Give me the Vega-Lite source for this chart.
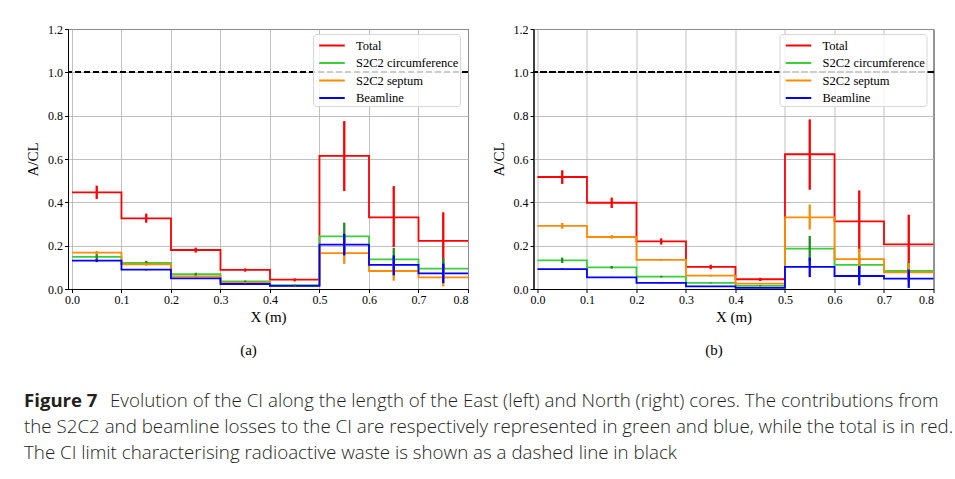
{
  "$schema": "https://vega.github.io/schema/vega-lite/v6.json",
  "padding": {"left": 24, "top": 22, "right": 0, "bottom": 0},
  "background": "white",
  "datasets": {
    "d": [
      {"p":"a","s":"Total","x0":0.0,"x1":0.1,"xc":0.05,"v":0.446,"lo":0.415,"hi":0.477},
      {"p":"a","s":"Total","x0":0.1,"x1":0.2,"xc":0.15,"v":0.326,"lo":0.306,"hi":0.348},
      {"p":"a","s":"Total","x0":0.2,"x1":0.3,"xc":0.25,"v":0.180,"lo":0.168,"hi":0.191},
      {"p":"a","s":"Total","x0":0.3,"x1":0.4,"xc":0.35,"v":0.088,"lo":0.080,"hi":0.095},
      {"p":"a","s":"Total","x0":0.4,"x1":0.5,"xc":0.45,"v":0.043,"lo":0.035,"hi":0.049},
      {"p":"a","s":"Total","x0":0.5,"x1":0.6,"xc":0.55,"v":0.614,"lo":0.452,"hi":0.775},
      {"p":"a","s":"Total","x0":0.6,"x1":0.7,"xc":0.65,"v":0.331,"lo":0.194,"hi":0.475},
      {"p":"a","s":"Total","x0":0.7,"x1":0.8,"xc":0.75,"v":0.222,"lo":0.071,"hi":0.354},
      {"p":"a","s":"S2C2 circumference","x0":0.0,"x1":0.1,"xc":0.05,"v":0.148,"lo":0.135,"hi":0.163},
      {"p":"a","s":"S2C2 circumference","x0":0.1,"x1":0.2,"xc":0.15,"v":0.120,"lo":0.111,"hi":0.130},
      {"p":"a","s":"S2C2 circumference","x0":0.2,"x1":0.3,"xc":0.25,"v":0.068,"lo":0.061,"hi":0.075},
      {"p":"a","s":"S2C2 circumference","x0":0.3,"x1":0.4,"xc":0.35,"v":0.035,"lo":0.031,"hi":0.039},
      {"p":"a","s":"S2C2 circumference","x0":0.4,"x1":0.5,"xc":0.45,"v":0.018,"lo":0.015,"hi":0.021},
      {"p":"a","s":"S2C2 circumference","x0":0.5,"x1":0.6,"xc":0.55,"v":0.243,"lo":0.178,"hi":0.306},
      {"p":"a","s":"S2C2 circumference","x0":0.6,"x1":0.7,"xc":0.65,"v":0.137,"lo":0.086,"hi":0.190},
      {"p":"a","s":"S2C2 circumference","x0":0.7,"x1":0.8,"xc":0.75,"v":0.094,"lo":0.045,"hi":0.143},
      {"p":"a","s":"S2C2 septum","x0":0.0,"x1":0.1,"xc":0.05,"v":0.168,"lo":0.160,"hi":0.176},
      {"p":"a","s":"S2C2 septum","x0":0.1,"x1":0.2,"xc":0.15,"v":0.114,"lo":0.108,"hi":0.120},
      {"p":"a","s":"S2C2 septum","x0":0.2,"x1":0.3,"xc":0.25,"v":0.058,"lo":0.053,"hi":0.063},
      {"p":"a","s":"S2C2 septum","x0":0.3,"x1":0.4,"xc":0.35,"v":0.029,"lo":0.026,"hi":0.032},
      {"p":"a","s":"S2C2 septum","x0":0.4,"x1":0.5,"xc":0.45,"v":0.014,"lo":0.012,"hi":0.016},
      {"p":"a","s":"S2C2 septum","x0":0.5,"x1":0.6,"xc":0.55,"v":0.166,"lo":0.116,"hi":0.225},
      {"p":"a","s":"S2C2 septum","x0":0.6,"x1":0.7,"xc":0.65,"v":0.083,"lo":0.038,"hi":0.128},
      {"p":"a","s":"S2C2 septum","x0":0.7,"x1":0.8,"xc":0.75,"v":0.054,"lo":0.012,"hi":0.096},
      {"p":"a","s":"Beamline","x0":0.0,"x1":0.1,"xc":0.05,"v":0.131,"lo":0.124,"hi":0.138},
      {"p":"a","s":"Beamline","x0":0.1,"x1":0.2,"xc":0.15,"v":0.089,"lo":0.086,"hi":0.092},
      {"p":"a","s":"Beamline","x0":0.2,"x1":0.3,"xc":0.25,"v":0.049,"lo":0.046,"hi":0.052},
      {"p":"a","s":"Beamline","x0":0.3,"x1":0.4,"xc":0.35,"v":0.023,"lo":0.021,"hi":0.025},
      {"p":"a","s":"Beamline","x0":0.4,"x1":0.5,"xc":0.45,"v":0.014,"lo":0.012,"hi":0.016},
      {"p":"a","s":"Beamline","x0":0.5,"x1":0.6,"xc":0.55,"v":0.205,"lo":0.155,"hi":0.255},
      {"p":"a","s":"Beamline","x0":0.6,"x1":0.7,"xc":0.65,"v":0.111,"lo":0.063,"hi":0.155},
      {"p":"a","s":"Beamline","x0":0.7,"x1":0.8,"xc":0.75,"v":0.072,"lo":0.027,"hi":0.117},
      {"p":"b","s":"Total","x0":0.0,"x1":0.1,"xc":0.05,"v":0.517,"lo":0.485,"hi":0.548},
      {"p":"b","s":"Total","x0":0.1,"x1":0.2,"xc":0.15,"v":0.398,"lo":0.374,"hi":0.422},
      {"p":"b","s":"Total","x0":0.2,"x1":0.3,"xc":0.25,"v":0.220,"lo":0.205,"hi":0.234},
      {"p":"b","s":"Total","x0":0.3,"x1":0.4,"xc":0.35,"v":0.102,"lo":0.091,"hi":0.112},
      {"p":"b","s":"Total","x0":0.4,"x1":0.5,"xc":0.45,"v":0.045,"lo":0.037,"hi":0.052},
      {"p":"b","s":"Total","x0":0.5,"x1":0.6,"xc":0.55,"v":0.622,"lo":0.458,"hi":0.783},
      {"p":"b","s":"Total","x0":0.6,"x1":0.7,"xc":0.65,"v":0.312,"lo":0.170,"hi":0.455},
      {"p":"b","s":"Total","x0":0.7,"x1":0.8,"xc":0.75,"v":0.206,"lo":0.055,"hi":0.343},
      {"p":"b","s":"S2C2 circumference","x0":0.0,"x1":0.1,"xc":0.05,"v":0.132,"lo":0.120,"hi":0.145},
      {"p":"b","s":"S2C2 circumference","x0":0.1,"x1":0.2,"xc":0.15,"v":0.100,"lo":0.094,"hi":0.106},
      {"p":"b","s":"S2C2 circumference","x0":0.2,"x1":0.3,"xc":0.25,"v":0.057,"lo":0.053,"hi":0.061},
      {"p":"b","s":"S2C2 circumference","x0":0.3,"x1":0.4,"xc":0.35,"v":0.028,"lo":0.026,"hi":0.030},
      {"p":"b","s":"S2C2 circumference","x0":0.4,"x1":0.5,"xc":0.45,"v":0.014,"lo":0.012,"hi":0.016},
      {"p":"b","s":"S2C2 circumference","x0":0.5,"x1":0.6,"xc":0.55,"v":0.186,"lo":0.128,"hi":0.245},
      {"p":"b","s":"S2C2 circumference","x0":0.6,"x1":0.7,"xc":0.65,"v":0.111,"lo":0.060,"hi":0.160},
      {"p":"b","s":"S2C2 circumference","x0":0.7,"x1":0.8,"xc":0.75,"v":0.083,"lo":0.040,"hi":0.126},
      {"p":"b","s":"S2C2 septum","x0":0.0,"x1":0.1,"xc":0.05,"v":0.291,"lo":0.278,"hi":0.305},
      {"p":"b","s":"S2C2 septum","x0":0.1,"x1":0.2,"xc":0.15,"v":0.240,"lo":0.232,"hi":0.249},
      {"p":"b","s":"S2C2 septum","x0":0.2,"x1":0.3,"xc":0.25,"v":0.134,"lo":0.129,"hi":0.139},
      {"p":"b","s":"S2C2 septum","x0":0.3,"x1":0.4,"xc":0.35,"v":0.062,"lo":0.058,"hi":0.066},
      {"p":"b","s":"S2C2 septum","x0":0.4,"x1":0.5,"xc":0.45,"v":0.025,"lo":0.022,"hi":0.028},
      {"p":"b","s":"S2C2 septum","x0":0.5,"x1":0.6,"xc":0.55,"v":0.331,"lo":0.274,"hi":0.390},
      {"p":"b","s":"S2C2 septum","x0":0.6,"x1":0.7,"xc":0.65,"v":0.138,"lo":0.090,"hi":0.186},
      {"p":"b","s":"S2C2 septum","x0":0.7,"x1":0.8,"xc":0.75,"v":0.077,"lo":0.035,"hi":0.120},
      {"p":"b","s":"Beamline","x0":0.0,"x1":0.1,"xc":0.05,"v":0.092,"lo":0.089,"hi":0.095},
      {"p":"b","s":"Beamline","x0":0.1,"x1":0.2,"xc":0.15,"v":0.054,"lo":0.052,"hi":0.056},
      {"p":"b","s":"Beamline","x0":0.2,"x1":0.3,"xc":0.25,"v":0.028,"lo":0.026,"hi":0.030},
      {"p":"b","s":"Beamline","x0":0.3,"x1":0.4,"xc":0.35,"v":0.012,"lo":0.011,"hi":0.013},
      {"p":"b","s":"Beamline","x0":0.4,"x1":0.5,"xc":0.45,"v":0.005,"lo":0.004,"hi":0.006},
      {"p":"b","s":"Beamline","x0":0.5,"x1":0.6,"xc":0.55,"v":0.102,"lo":0.055,"hi":0.145},
      {"p":"b","s":"Beamline","x0":0.6,"x1":0.7,"xc":0.65,"v":0.060,"lo":0.017,"hi":0.106},
      {"p":"b","s":"Beamline","x0":0.7,"x1":0.8,"xc":0.75,"v":0.048,"lo":0.005,"hi":0.090}
    ],
    "cap": [
      {"line": 1, "lead": "Figure 7", "body": "Evolution of the CI along the length of the East (left) and North (right) cores. The contributions from"},
      {"line": 2, "lead": "", "body": "the S2C2 and beamline losses to the CI are respectively represented in green and blue, while the total is in red."},
      {"line": 3, "lead": "", "body": "The CI limit characterising radioactive waste is shown as a dashed line in black"}
    ]
  },
  "config": {
    "font": "Liberation Serif",
    "view": {"stroke": "black", "strokeWidth": 1},
    "axis": {
      "labelFont": "Liberation Serif", "labelFontSize": 12, "labelColor": "black", "labelFontWeight": "normal",
      "titleFont": "Liberation Serif", "titleFontSize": 15, "titleFontWeight": "normal", "titleColor": "black",
      "tickColor": "black", "tickSize": 3.5, "domainColor": "black", "domainWidth": 1,
      "gridColor": "#b0b0b0", "gridWidth": 0.8, "labelPadding": 2
    },
    "legend": {
      "labelFont": "Liberation Serif", "labelFontSize": 12.5, "labelColor": "black"
    },
    "title": {"font": "Liberation Serif", "fontSize": 15, "fontWeight": "normal", "color": "black"}
  },
  "vconcat": [
    {
      "hconcat": [
        {
          "width": 400, "height": 260,
          "data": {"name": "d"},
          "transform": [{"filter": "datum.p === 'a'"}],
          "title": {"text": "(a)", "orient": "bottom", "anchor": "middle", "frame": "bounds", "offset": 18},
          "layer": [
            {
              "transform": [{"fold": ["x0", "x1"], "as": ["edge", "xpos"]}],
              "mark": {"type": "line", "strokeWidth": 1.8},
              "encoding": {
                "x": {"field": "xpos", "type": "quantitative", "title": "X (m)",
                      "scale": {"domain": [-0.008, 0.8], "nice": false, "zero": false},
                      "axis": {"values": [0, 0.1, 0.2, 0.3, 0.4, 0.5, 0.6, 0.7, 0.8], "format": ".1f", "titlePadding": 4}},
                "y": {"field": "v", "type": "quantitative", "title": "A/CL",
                      "scale": {"domain": [0, 1.2], "nice": false},
                      "axis": {"values": [0, 0.2, 0.4, 0.6, 0.8, 1.0, 1.2], "format": ".1f", "titlePadding": 7}},
                "color": {"field": "s", "type": "nominal",
                          "scale": {"domain": ["Total", "S2C2 circumference", "S2C2 septum", "Beamline"], "range": ["#ff0000", "#3ccd3c", "#ff8c00", "#0000ff"]},
                          "legend": {"title": null, "orient": "none", "legendX": 245, "legendY": 5, "padding": 1.5, "strokeColor": "#d6d6d6", "fillColor": "rgba(255,255,255,0.8)", "cornerRadius": 3, "symbolType": "M-1.5,0H1.5", "symbolSize": 290, "symbolStrokeWidth": 2, "symbolOffset": 7.5, "rowPadding": 0.5, "labelOffset": 14}},
                "order": [{"field": "x0", "type": "quantitative"}, {"field": "xpos", "type": "quantitative"}]
              }
            },
            {
              "mark": {"type": "rule", "strokeWidth": 2.3},
              "encoding": {
                "x": {"field": "xc", "type": "quantitative"},
                "y": {"field": "lo", "type": "quantitative"},
                "y2": {"field": "hi"},
                "stroke": {"field": "s", "type": "nominal", "legend": null,
                           "scale": {"domain": ["Total", "S2C2 circumference", "S2C2 septum", "Beamline"], "range": ["#ff0000", "#1e8c1e", "#ff8c00", "#0000ff"]}}
              }
            },
            {
              "mark": {"type": "rule", "color": "black", "strokeDash": [6, 3], "strokeWidth": 1.5},
              "encoding": {"y": {"datum": 1.0}}
            }
          ]
        },
        {
          "width": 400, "height": 260,
          "data": {"name": "d"},
          "transform": [{"filter": "datum.p === 'b'"}],
          "title": {"text": "(b)", "orient": "bottom", "anchor": "middle", "frame": "bounds", "offset": 18},
          "layer": [
            {
              "transform": [{"fold": ["x0", "x1"], "as": ["edge", "xpos"]}],
              "mark": {"type": "line", "strokeWidth": 1.8},
              "encoding": {
                "x": {"field": "xpos", "type": "quantitative", "title": "X (m)",
                      "scale": {"domain": [-0.008, 0.8], "nice": false, "zero": false},
                      "axis": {"values": [0, 0.1, 0.2, 0.3, 0.4, 0.5, 0.6, 0.7, 0.8], "format": ".1f", "titlePadding": 4}},
                "y": {"field": "v", "type": "quantitative", "title": "A/CL",
                      "scale": {"domain": [0, 1.2], "nice": false},
                      "axis": {"values": [0, 0.2, 0.4, 0.6, 0.8, 1.0, 1.2], "format": ".1f", "titlePadding": 7}},
                "color": {"field": "s", "type": "nominal",
                          "scale": {"domain": ["Total", "S2C2 circumference", "S2C2 septum", "Beamline"], "range": ["#ff0000", "#3ccd3c", "#ff8c00", "#0000ff"]},
                          "legend": {"title": null, "orient": "none", "legendX": 246, "legendY": 5, "padding": 1.5, "strokeColor": "#d6d6d6", "fillColor": "rgba(255,255,255,0.8)", "cornerRadius": 3, "symbolType": "M-1.5,0H1.5", "symbolSize": 290, "symbolStrokeWidth": 2, "symbolOffset": 7.5, "rowPadding": 0.5, "labelOffset": 14}},
                "order": [{"field": "x0", "type": "quantitative"}, {"field": "xpos", "type": "quantitative"}]
              }
            },
            {
              "mark": {"type": "rule", "strokeWidth": 2.3},
              "encoding": {
                "x": {"field": "xc", "type": "quantitative"},
                "y": {"field": "lo", "type": "quantitative"},
                "y2": {"field": "hi"},
                "stroke": {"field": "s", "type": "nominal", "legend": null,
                           "scale": {"domain": ["Total", "S2C2 circumference", "S2C2 septum", "Beamline"], "range": ["#ff0000", "#1e8c1e", "#ff8c00", "#0000ff"]}}
              }
            },
            {
              "mark": {"type": "rule", "color": "black", "strokeDash": [6, 3], "strokeWidth": 1.5},
              "encoding": {"y": {"datum": 1.0}}
            }
          ]
        }
      ],
      "spacing": 17.5,
      "resolve": {"scale": {"color": "independent", "stroke": "independent"}, "legend": {"color": "independent"}}
    },
    {
      "width": 930, "height": 78,
      "view": {"stroke": null},
      "data": {"name": "cap"},
      "layer": [
        {
          "transform": [{"filter": "datum.line === 1"}],
          "mark": {"type": "text", "align": "left", "baseline": "middle", "font": "Open Sans", "fontSize": 18.6, "fontWeight": "bold", "color": "#231f20"},
          "encoding": {
            "y": {"field": "line", "type": "ordinal", "axis": null, "scale": {"domain": [1, 2, 3]}},
            "x": {"value": -44},
            "text": {"field": "lead"}
          }
        },
        {
          "transform": [{"filter": "datum.line === 1"}],
          "mark": {"type": "text", "align": "left", "baseline": "middle", "font": "Open Sans", "fontSize": 18.75, "fontWeight": 300, "color": "#231f20", "dx": 86},
          "encoding": {
            "y": {"field": "line", "type": "ordinal", "axis": null, "scale": {"domain": [1, 2, 3]}},
            "x": {"value": -44},
            "text": {"field": "body"}
          }
        },
        {
          "transform": [{"filter": "datum.line > 1"}],
          "mark": {"type": "text", "align": "left", "baseline": "middle", "font": "Open Sans", "fontSize": 18.75, "fontWeight": 300, "color": "#231f20"},
          "encoding": {
            "y": {"field": "line", "type": "ordinal", "axis": null, "scale": {"domain": [1, 2, 3]}},
            "x": {"value": -44},
            "text": {"field": "body"}
          }
        }
      ]
    }
  ],
  "spacing": 30
}
